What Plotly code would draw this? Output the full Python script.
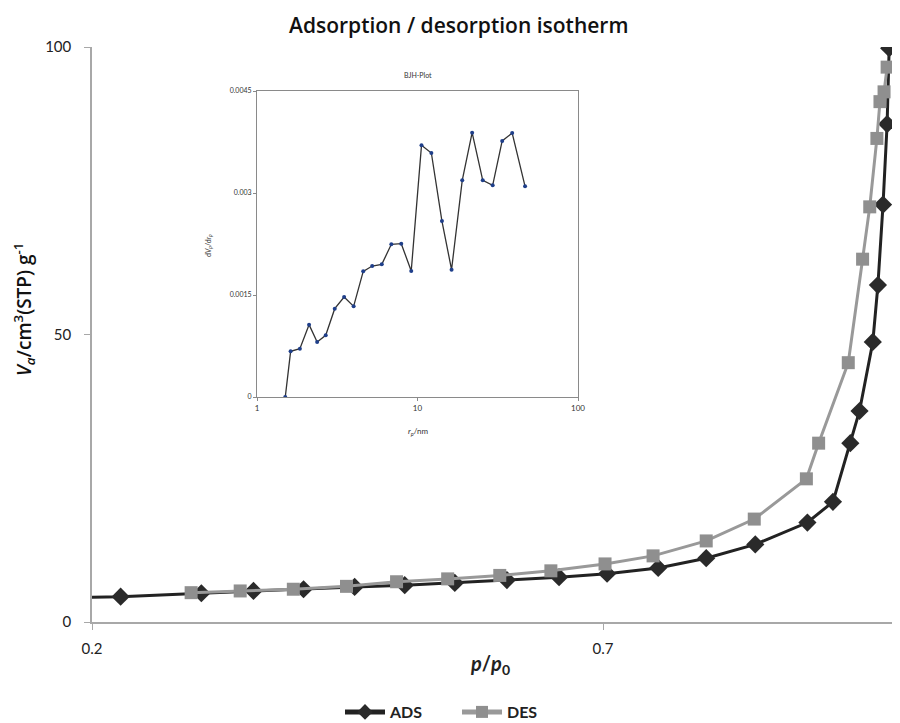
import plotly.graph_objects as go

# Main isotherm data (p/p0, Va)
ads_x = [0.17, 0.228, 0.307, 0.358, 0.407, 0.457, 0.506, 0.555, 0.606, 0.657, 0.704,
         0.754, 0.801, 0.849, 0.900, 0.925, 0.942, 0.951, 0.964, 0.969, 0.974, 0.978, 0.980]
ads_y = [4.2, 4.4, 5.0, 5.4, 5.7, 6.1, 6.4, 6.8, 7.3, 7.8, 8.4,
         9.4, 11.1, 13.5, 17.3, 20.9, 31.1, 36.7, 48.7, 58.6, 72.6, 86.6, 99.8]
des_x = [0.297, 0.345, 0.397, 0.449, 0.498, 0.548, 0.599, 0.649, 0.702, 0.749, 0.801,
         0.848, 0.899, 0.911, 0.940, 0.954, 0.961, 0.968, 0.971, 0.975, 0.978]
des_y = [5.1, 5.4, 5.7, 6.2, 7.0, 7.5, 8.1, 8.9, 10.1, 11.5, 14.1,
         17.9, 24.9, 31.1, 45.1, 63.1, 72.2, 84.1, 90.5, 92.2, 96.5]

# BJH inset data (r_p / nm, dVp/drp)
bjh_r = [1.50, 1.62, 1.85, 2.11, 2.37, 2.68, 3.05, 3.49, 4.00, 4.59, 5.22, 5.99, 6.87,
         7.92, 9.14, 10.59, 12.2, 14.2, 16.3, 19.0, 21.9, 25.5, 29.4, 33.7, 38.9, 46.8]
bjh_v = [0.0, 0.000672, 0.000711, 0.001064, 0.000809, 0.000907, 0.001299, 0.001471,
         0.001333, 0.001848, 0.001926, 0.001951, 0.002245, 0.002255, 0.001853, 0.003701,
         0.003588, 0.002588, 0.001873, 0.003186, 0.003887, 0.003186, 0.003113, 0.003765,
         0.003882, 0.003098]

main_ticks_x = [0.2, 0.7]
main_ticks_y = [0, 50, 100]
inset_ticks_y = [0, 0.0015, 0.003, 0.0045]
inset_ticklabels_y = ["0", "0.0015", "0.003", "0.0045"]
inset_ticks_x = [1, 10, 100]

FONT = "Lato"
TFONT = "Open Sans"
OFF = 8                      # page body margin
W, H = 900 - OFF, 723 - OFF
L, R, T, B = 92 - OFF, 0, 47 - OFF, 101
pw, ph = W - L - R, H - T - B

def px2paper_x(px):          # page pixel -> paper
    return (px - OFF - L) / pw

def px2paper_y(py):
    return (H - B - (py - OFF)) / ph

fig = go.Figure()

fig.add_trace(go.Scatter(
    x=ads_x, y=ads_y, name="ADS", mode="lines+markers",
    line=dict(color="#222222", width=3),
    marker=dict(symbol="diamond", size=14, color="#2a2a2a"),
))
fig.add_trace(go.Scatter(
    x=des_x, y=des_y, name="DES", mode="lines+markers",
    line=dict(color="#999999", width=3),
    marker=dict(symbol="square", size=13, color="#8f8f8f"),
))
fig.add_trace(go.Scatter(
    x=bjh_r, y=bjh_v, mode="lines+markers", showlegend=False,
    xaxis="x2", yaxis="y2",
    line=dict(color="#333333", width=1.3),
    marker=dict(symbol="circle", size=4, color="#1f3f8a"),
))

ix0, ix1 = px2paper_x(257), px2paper_x(578)
iy0, iy1 = px2paper_y(397), px2paper_y(91)

fig.update_layout(
    width=W, height=H,
    margin=dict(l=L, r=R, t=T, b=B, autoexpand=False),
    paper_bgcolor="white", plot_bgcolor="white",
    font=dict(family=FONT, color="#222222"),
    showlegend=True,
    legend=dict(orientation="h", x=px2paper_x(340), y=px2paper_y(712),
                xanchor="left", yanchor="middle", itemsizing="constant",
                entrywidth=62, entrywidthmode="pixels",
                font=dict(size=16, family=FONT, color="#222222", weight=700),
                itemwidth=40, tracegroupgap=0),
    xaxis=dict(range=[0.2, 0.2 + pw / 1022.0], tickvals=main_ticks_x,
               ticktext=["0.2", "0.7"],
               showgrid=False, zeroline=False, showline=True,
               linecolor="#a8a8a8", linewidth=1.5,
               ticks="outside", ticklen=6, tickcolor="#a8a8a8",
               ticklabelstandoff=6,
               tickfont=dict(size=15, family=FONT, color="#222222")),
    yaxis=dict(range=[0, 100], tickvals=main_ticks_y,
               showgrid=False, zeroline=False, showline=True,
               linecolor="#a8a8a8", linewidth=1.5,
               ticks="outside", ticklen=6, tickcolor="#a8a8a8",
               ticklabelstandoff=10,
               tickfont=dict(size=15, family=FONT, color="#222222")),
    xaxis2=dict(type="log", range=[0, 2], domain=[ix0, ix1], anchor="y2",
                tickvals=inset_ticks_x, ticktext=["1", "10", "100"],
                showgrid=False, zeroline=False, showline=True, mirror=True,
                linecolor="#8a8a8a", linewidth=1,
                ticks="outside", ticklen=3, tickcolor="#8a8a8a",
                tickfont=dict(size=8, family=FONT, color="#333333")),
    yaxis2=dict(range=[0, 0.0045], domain=[iy0, iy1], anchor="x2",
                tickvals=inset_ticks_y, ticktext=inset_ticklabels_y,
                showgrid=False, zeroline=False, showline=True, mirror=True,
                linecolor="#8a8a8a", linewidth=1,
                ticks="outside", ticklen=3, tickcolor="#8a8a8a",
                tickfont=dict(size=7, family=FONT, color="#333333")),
)

annotations = [
    dict(text="Adsorption / desorption isotherm", x=px2paper_x(458), y=px2paper_y(25),
         font=dict(size=21, family=TFONT, color="#111111", weight=600)),
    dict(text="<i>V</i><sub><i>a</i></sub>/cm<sup>3</sup>(STP) g<sup>-1</sup>",
         x=px2paper_x(24), y=px2paper_y(310), textangle=-90,
         font=dict(size=19, family=TFONT, color="#111111", weight=600)),
    dict(text="<b><i>p</i>/<i>p</i><sub>0</sub></b>", x=px2paper_x(490), y=px2paper_y(664),
         font=dict(size=20, family=FONT, color="#222222")),
    dict(text="BJH-Plot", x=px2paper_x(418), y=px2paper_y(75),
         font=dict(size=7, family=FONT, color="#333333")),
    dict(text="<i>r</i><sub><i>p</i></sub>/nm", x=px2paper_x(418), y=px2paper_y(431),
         font=dict(size=8, family=FONT, color="#333333")),
    dict(text="d<i>V</i><sub><i>p</i></sub>/d<i>r</i><sub><i>p</i></sub>",
         x=px2paper_x(208), y=px2paper_y(246), textangle=-90,
         font=dict(size=7, family=FONT, color="#333333")),
]
for a in annotations:
    a.update(xref="paper", yref="paper", showarrow=False, xanchor="center", yanchor="middle")
fig.update_layout(annotations=annotations)

fig.write_html("out.html")
